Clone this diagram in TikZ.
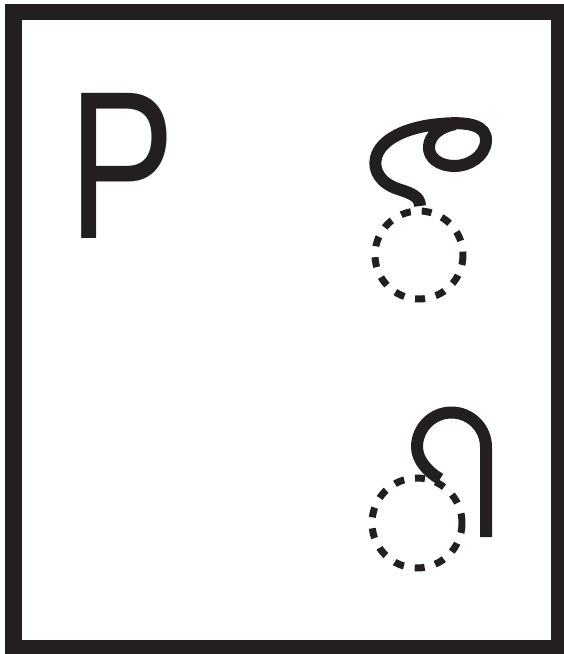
\documentclass[tikz,border=0pt]{standalone}
\usepackage{fontspec}
\setmainfont{Liberation Sans}
\definecolor{ink}{HTML}{231F20}
\tikzset{
  frame/.style={draw=ink, line width=16.5pt},
  stroke/.style={draw=ink, line width=12pt, line cap=butt, line join=round},
  dotring/.style={draw=ink, line width=7pt, dash pattern=on 10pt off 11pt},
}
\begin{document}
\begin{tikzpicture}[x=1pt,y=-1pt]
\useasboundingbox (0,0) rectangle (564,654);
\fill[white] (0,0) rectangle (564,654);
\draw[frame] (13.5,12) rectangle (559.5,648.5);
\node[anchor=base west, inner sep=0, xscale=0.76, text=ink,
      font=\fontsize{211}{211}\selectfont] (P) at (68.3,238) {P};
% upper glyph
\draw[dotring] (419,255) circle (44);
\draw[stroke] (420,206) .. controls (420,196) and (410,193) .. (398,189)
  .. controls (380,183) and (373,170) .. (376,158)
  .. controls (380,140) and (405,127) .. (440,124)
  .. controls (470,121) and (487,126) .. (486,141)
  .. controls (485,157) and (468,166) .. (455,166)
  .. controls (438,166) and (428,157) .. (429,146)
  .. controls (430,135) and (440,127) .. (455,124);
% lower glyph
\draw[dotring] (417,523) circle (45);
\draw[stroke] (486,537) -- (486,447)
  arc[start angle=0, end angle=-180, radius=34.5]
  .. controls (417,460) and (428,472) .. (440,479);
\end{tikzpicture}
\end{document}
